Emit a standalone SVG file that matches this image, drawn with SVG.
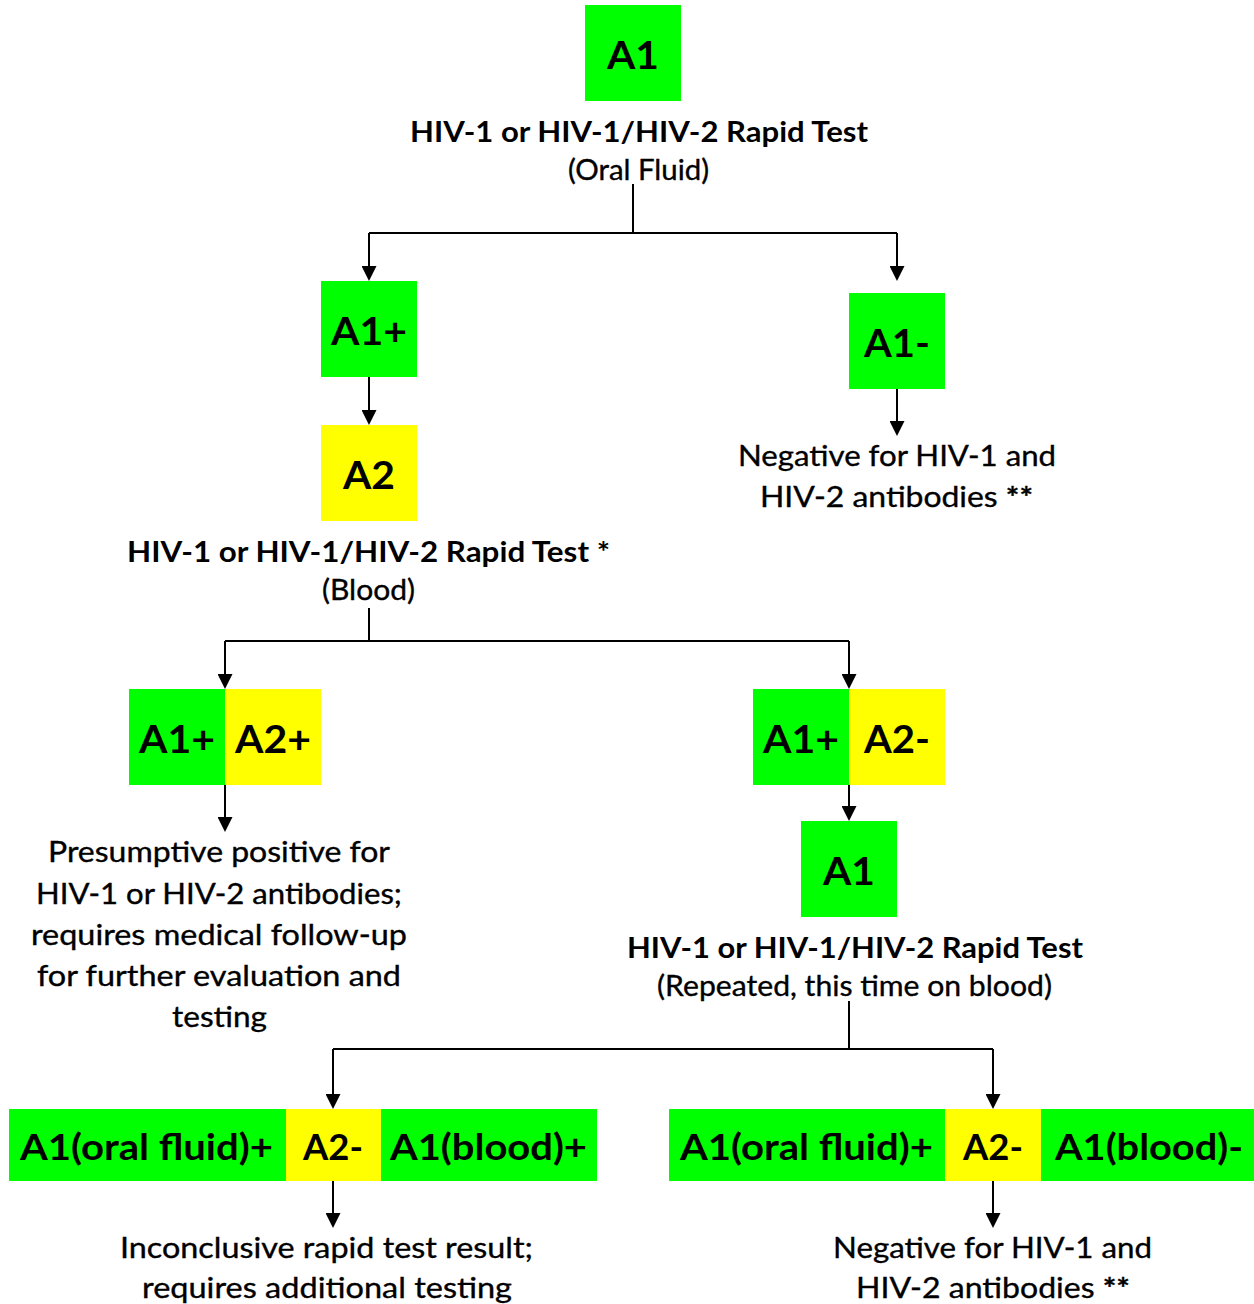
<svg xmlns="http://www.w3.org/2000/svg" width="1254" height="1304" viewBox="0 0 1254 1304">
<defs>
<style>
.g{fill:#00FF00}
.y{fill:#FFFF00}
.big{font-family:Lato,"Open Sans","Liberation Sans",sans-serif;font-weight:bold;font-size:38px;fill:#000;text-anchor:middle}
.lab{font-family:Lato,"Open Sans","Liberation Sans",sans-serif;font-weight:bold;font-size:36px;fill:#000;text-anchor:middle}
.tt{font-family:Lato,"Open Sans","Liberation Sans",sans-serif;font-weight:bold;font-size:29px;fill:#000;text-anchor:middle}
.bd{font-family:Lato,"Open Sans","Liberation Sans",sans-serif;font-size:28px;fill:#000;stroke:#000;stroke-width:0.35;text-anchor:middle}
.st{font-weight:bold}
.c{fill:none;stroke:#000;stroke-width:2}
.a{fill:none;stroke:#000;stroke-width:2;marker-end:url(#ah)}
</style>
<marker id="ah" markerUnits="userSpaceOnUse" markerWidth="15" markerHeight="15" refX="12" refY="7.5" orient="auto">
<path d="M0,0 L15,7.5 L0,15 z" fill="#000"/>
</marker>
</defs>

<g id="connectors">
<path class="c" d="M633,184 V233 M369,233 H897"/>
<path class="a" d="M369,233 V278"/>
<path class="a" d="M897,233 V278"/>
<path class="a" d="M369,377 V422"/>
<path class="a" d="M897,389 V433"/>
<path class="c" d="M369,608 V641 M225,641 H849"/>
<path class="a" d="M225,641 V686"/>
<path class="a" d="M849,641 V686"/>
<path class="a" d="M225,785 V829"/>
<path class="a" d="M849,773 V818"/>
<path class="c" d="M849,1001 V1049 M333,1049 H993"/>
<path class="a" d="M333,1049 V1106"/>
<path class="a" d="M993,1049 V1106"/>
<path class="a" d="M333,1181 V1225"/>
<path class="a" d="M993,1181 V1225"/>
</g>

<g id="node-a1-oral">
<rect class="g" x="585" y="5" width="96" height="96"/>
<text class="big" x="633" y="69" textLength="52" lengthAdjust="spacingAndGlyphs">A1</text>
<text class="tt" x="639" y="142" textLength="458" lengthAdjust="spacingAndGlyphs">HIV-1 or HIV-1/HIV-2 Rapid Test</text>
<text class="bd" x="638.5" y="180" textLength="141" lengthAdjust="spacingAndGlyphs">(Oral Fluid)</text>
</g>

<g id="node-a1-pos">
<rect class="g" x="321" y="281" width="96" height="96"/>
<text class="big" x="369" y="345" textLength="76" lengthAdjust="spacingAndGlyphs">A1+</text>
</g>

<g id="node-a1-neg">
<rect class="g" x="849" y="293" width="96" height="96"/>
<text class="big" x="897" y="357" textLength="66" lengthAdjust="spacingAndGlyphs">A1-</text>
</g>

<g id="result-neg-1">
<text class="bd" x="897" y="466" textLength="318" lengthAdjust="spacingAndGlyphs">Negative for HIV-1 and</text>
<text class="bd" x="896.5" y="507" textLength="273" lengthAdjust="spacingAndGlyphs">HIV-2 antibodies <tspan class="st">**</tspan></text>
</g>

<g id="node-a2">
<rect class="y" x="321" y="425" width="96" height="96"/>
<text class="big" x="369" y="489" textLength="52" lengthAdjust="spacingAndGlyphs">A2</text>
<text class="tt" x="368.5" y="562" textLength="483" lengthAdjust="spacingAndGlyphs">HIV-1 or HIV-1/HIV-2 Rapid Test *</text>
<text class="bd" x="368.5" y="600" textLength="93" lengthAdjust="spacingAndGlyphs">(Blood)</text>
</g>

<g id="node-a1pos-a2pos">
<rect class="g" x="129" y="689" width="96" height="96"/>
<rect class="y" x="225" y="689" width="96" height="96"/>
<text class="big" x="177" y="753" textLength="76" lengthAdjust="spacingAndGlyphs">A1+</text>
<text class="big" x="273" y="753" textLength="76" lengthAdjust="spacingAndGlyphs">A2+</text>
</g>

<g id="result-presumptive">
<text class="bd" x="219" y="862" textLength="342" lengthAdjust="spacingAndGlyphs">Presumptive positive for</text>
<text class="bd" x="219" y="904" textLength="366" lengthAdjust="spacingAndGlyphs">HIV-1 or HIV-2 antibodies;</text>
<text class="bd" x="219" y="945" textLength="376" lengthAdjust="spacingAndGlyphs">requires medical follow-up</text>
<text class="bd" x="219" y="986" textLength="364" lengthAdjust="spacingAndGlyphs">for further evaluation and</text>
<text class="bd" x="219.5" y="1027" textLength="95" lengthAdjust="spacingAndGlyphs">testing</text>
</g>

<g id="node-a1pos-a2neg">
<rect class="g" x="753" y="689" width="96" height="96"/>
<rect class="y" x="849" y="689" width="96" height="96"/>
<text class="big" x="801" y="753" textLength="76" lengthAdjust="spacingAndGlyphs">A1+</text>
<text class="big" x="897" y="753" textLength="66" lengthAdjust="spacingAndGlyphs">A2-</text>
</g>

<g id="node-a1-blood">
<rect class="g" x="801" y="821" width="96" height="96"/>
<text class="big" x="849" y="885" textLength="52" lengthAdjust="spacingAndGlyphs">A1</text>
<text class="tt" x="855" y="958" textLength="456" lengthAdjust="spacingAndGlyphs">HIV-1 or HIV-1/HIV-2 Rapid Test</text>
<text class="bd" x="854.5" y="996" textLength="395" lengthAdjust="spacingAndGlyphs">(Repeated, this time on blood)</text>
</g>

<g id="node-bottom-left">
<rect class="g" x="9" y="1109" width="277" height="72"/>
<rect class="y" x="286" y="1109" width="95" height="72"/>
<rect class="g" x="381" y="1109" width="216" height="72"/>
<text class="lab" x="146.5" y="1160" textLength="253" lengthAdjust="spacingAndGlyphs">A1(oral fluid)+</text>
<text class="lab" x="333" y="1160" textLength="60" lengthAdjust="spacingAndGlyphs">A2-</text>
<text class="lab" x="488.5" y="1160" textLength="197" lengthAdjust="spacingAndGlyphs">A1(blood)+</text>
</g>

<g id="result-inconclusive">
<text class="bd" x="326.5" y="1258" textLength="413" lengthAdjust="spacingAndGlyphs">Inconclusive rapid test result;</text>
<text class="bd" x="327" y="1298" textLength="370" lengthAdjust="spacingAndGlyphs">requires additional testing</text>
</g>

<g id="node-bottom-right">
<rect class="g" x="669" y="1109" width="276" height="72"/>
<rect class="y" x="945" y="1109" width="96" height="72"/>
<rect class="g" x="1041" y="1109" width="213" height="72"/>
<text class="lab" x="806.5" y="1160" textLength="253" lengthAdjust="spacingAndGlyphs">A1(oral fluid)+</text>
<text class="lab" x="993" y="1160" textLength="60" lengthAdjust="spacingAndGlyphs">A2-</text>
<text class="lab" x="1149" y="1160" textLength="188" lengthAdjust="spacingAndGlyphs">A1(blood)-</text>
</g>

<g id="result-neg-2">
<text class="bd" x="992.5" y="1258" textLength="319" lengthAdjust="spacingAndGlyphs">Negative for HIV-1 and</text>
<text class="bd" x="993" y="1298" textLength="274" lengthAdjust="spacingAndGlyphs">HIV-2 antibodies <tspan class="st">**</tspan></text>
</g>
</svg>
